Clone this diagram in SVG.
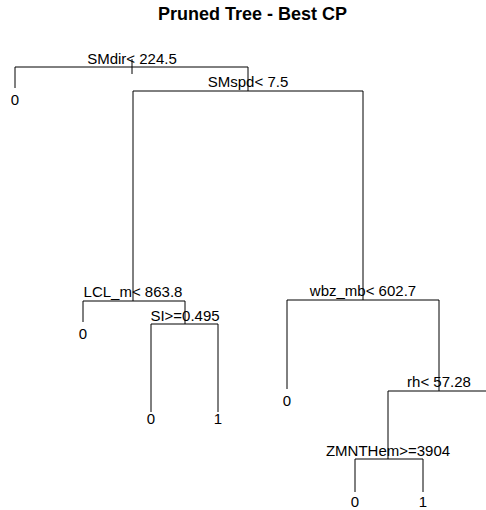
<svg xmlns="http://www.w3.org/2000/svg" width="486" height="510" viewBox="0 0 486 510">
<style>
text{font-family:"Liberation Sans",Arial,sans-serif;font-size:15px;fill:#000;text-anchor:middle}
.t{font-weight:bold;font-size:18px}
.e{stroke:#000;stroke-width:1;fill:none}
</style>
<rect width="486" height="510" fill="#fff"/>
<text class="t" x="252.5" y="20">Pruned Tree - Best CP</text>
<g id="connectors">
<path class="e" d="M132,59V74"/>
<path class="e" d="M15,88V67H248V91"/>
<path class="e" d="M133,301V91H363V300"/>
<path class="e" d="M83,322V301H185V324"/>
<path class="e" d="M151,412V324H218V412"/>
<path class="e" d="M287,389V300H439V391"/>
<path class="e" d="M388,459V391H490"/>
<path class="e" d="M355,492V459H423V492"/>
</g>
<g id="n1"><text x="132" y="64">SMdir&lt; 224.5</text></g>
<g id="n2"><text x="15" y="105">0</text></g>
<g id="n3"><text x="248" y="87">SMspd&lt; 7.5</text></g>
<g id="n4"><text x="133" y="296.5">LCL_m&lt; 863.8</text></g>
<g id="n5"><text x="83" y="339">0</text></g>
<g id="n6"><text x="185" y="321">SI&gt;=0.495</text></g>
<g id="n7"><text x="151" y="424">0</text></g>
<g id="n8"><text x="218" y="424">1</text></g>
<g id="n9"><text x="363" y="296">wbz_mb&lt; 602.7</text></g>
<g id="n10"><text x="287" y="406">0</text></g>
<g id="n11"><text x="439" y="387">rh&lt; 57.28</text></g>
<g id="n12"><text x="388" y="456">ZMNTHem&gt;=3904</text></g>
<g id="n13"><text x="355" y="507">0</text></g>
<g id="n14"><text x="423" y="507">1</text></g>
</svg>
